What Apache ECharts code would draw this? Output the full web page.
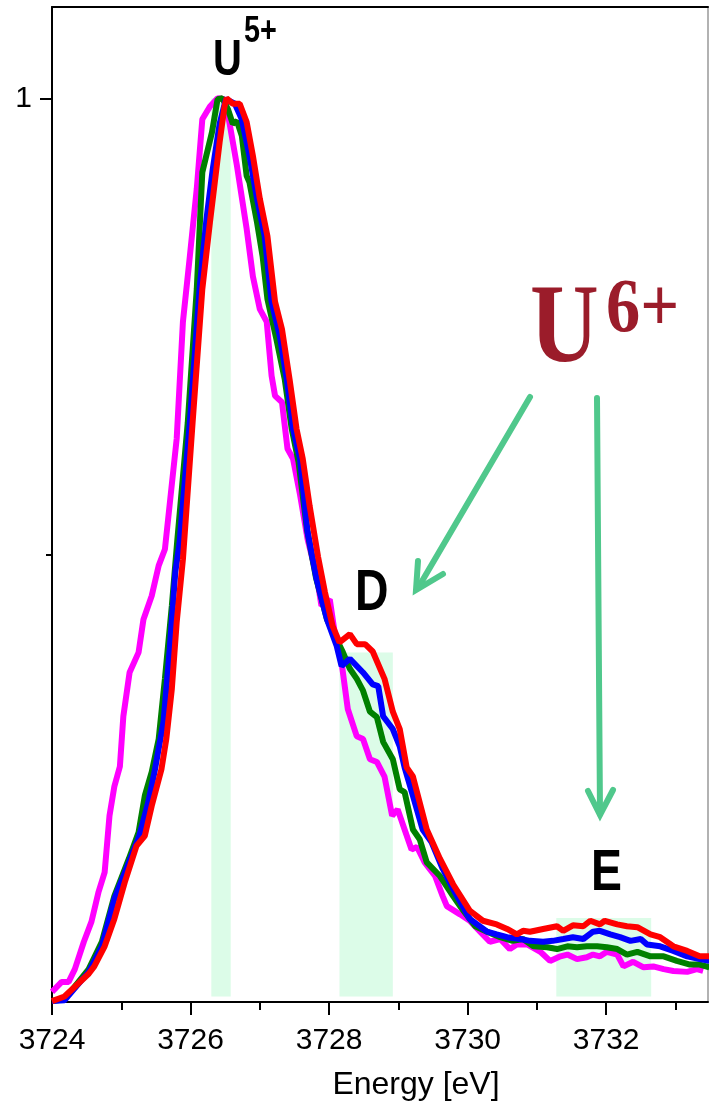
<!DOCTYPE html>
<html>
<head>
<meta charset="utf-8">
<style>
  html, body { margin: 0; padding: 0; background: #fff; }
  #chart { width: 709px; height: 1107px; }
</style>
<script src="https://cdn.jsdelivr.net/npm/echarts@6/dist/echarts.min.js"></script>
</head>
<body>
<div id="chart"></div>
<script>
// HERFD spectra, normalised intensity vs. incident energy [eV]
const magenta = [
  [3724.00,0.021],[3724.14,0.032],[3724.24,0.032],[3724.33,0.046],[3724.46,0.076],[3724.57,0.098],
  [3724.67,0.130],[3724.76,0.152],[3724.83,0.214],[3724.90,0.246],[3724.98,0.268],[3725.03,0.323],
  [3725.12,0.371],[3725.25,0.393],[3725.32,0.429],[3725.44,0.455],[3725.54,0.488],[3725.63,0.506],
  [3725.80,0.627],[3725.89,0.755],[3725.99,0.827],[3726.09,0.901],[3726.17,0.977],[3726.28,0.991],
  [3726.39,1.000],[3726.49,0.999],[3726.56,0.974],[3726.67,0.926],[3726.81,0.857],[3726.90,0.805],
  [3727.00,0.769],[3727.10,0.755],[3727.17,0.696],[3727.22,0.674],[3727.32,0.667],[3727.40,0.616],
  [3727.48,0.605],[3727.58,0.566],[3727.69,0.517],[3727.82,0.477],[3727.89,0.444],[3728.01,0.451],
  [3728.08,0.415],[3728.18,0.382],[3728.27,0.331],[3728.40,0.301],[3728.49,0.298],[3728.59,0.276],
  [3728.69,0.273],[3728.80,0.257],[3728.91,0.214],[3728.99,0.221],[3729.09,0.199],[3729.19,0.177],
  [3729.27,0.180],[3729.38,0.163],[3729.53,0.148],[3729.64,0.126],[3729.70,0.115],[3729.89,0.106],
  [3730.03,0.099],[3730.18,0.087],[3730.32,0.076],[3730.47,0.079],[3730.61,0.068],[3730.71,0.073],
  [3730.86,0.073],[3731.05,0.065],[3731.19,0.055],[3731.34,0.060],[3731.44,0.062],[3731.58,0.057],
  [3731.72,0.059],[3731.81,0.062],[3731.91,0.060],[3732.01,0.065],[3732.16,0.062],[3732.25,0.049],
  [3732.39,0.054],[3732.54,0.048],[3732.68,0.049],[3732.83,0.046],[3732.97,0.044],[3733.17,0.043],
  [3733.31,0.046],[3733.40,0.044]
];
const green = [
  [3724.00,0.011],[3724.18,0.013],[3724.53,0.046],[3724.72,0.076],[3724.90,0.126],[3725.11,0.167],
  [3725.25,0.196],[3725.34,0.236],[3725.44,0.262],[3725.54,0.298],[3725.63,0.364],[3725.73,0.444],
  [3725.81,0.517],[3725.96,0.645],[3726.09,0.791],[3726.17,0.919],[3726.31,0.963],[3726.39,0.999],
  [3726.46,1.000],[3726.54,0.988],[3726.61,0.972],[3726.67,0.975],[3726.74,0.959],[3726.81,0.915],
  [3726.85,0.908],[3726.96,0.864],[3727.04,0.827],[3727.11,0.780],[3727.24,0.736],[3727.36,0.692],
  [3727.46,0.638],[3727.56,0.601],[3727.68,0.528],[3727.81,0.475],[3727.97,0.429],[3728.04,0.418],
  [3728.20,0.393],[3728.30,0.375],[3728.40,0.364],[3728.49,0.351],[3728.59,0.328],[3728.69,0.322],
  [3728.78,0.295],[3728.92,0.276],[3729.02,0.243],[3729.09,0.240],[3729.21,0.199],[3729.31,0.188],
  [3729.41,0.163],[3729.60,0.148],[3729.79,0.126],[3729.89,0.115],[3730.11,0.093],[3730.28,0.087],
  [3730.47,0.081],[3730.65,0.077],[3730.80,0.079],[3730.95,0.071],[3731.15,0.070],[3731.29,0.068],
  [3731.44,0.071],[3731.58,0.070],[3731.72,0.071],[3731.87,0.071],[3732.01,0.070],[3732.16,0.068],
  [3732.30,0.062],[3732.45,0.065],[3732.64,0.060],[3732.83,0.060],[3733.02,0.055],[3733.21,0.051],
  [3733.35,0.051],[3733.49,0.048]
];
const blue = [
  [3724.00,0.011],[3724.18,0.012],[3724.53,0.043],[3724.72,0.071],[3724.90,0.123],[3725.11,0.163],
  [3725.26,0.192],[3725.39,0.229],[3725.48,0.262],[3725.61,0.317],[3725.70,0.397],[3725.78,0.481],
  [3725.84,0.512],[3725.99,0.645],[3726.13,0.791],[3726.23,0.868],[3726.32,0.922],[3726.42,0.972],
  [3726.51,0.999],[3726.64,0.994],[3726.74,0.977],[3726.85,0.937],[3726.96,0.890],[3727.07,0.849],
  [3727.17,0.777],[3727.29,0.739],[3727.39,0.692],[3727.48,0.638],[3727.58,0.605],[3727.69,0.525],
  [3727.82,0.473],[3727.97,0.429],[3728.11,0.400],[3728.18,0.378],[3728.30,0.386],[3728.49,0.371],
  [3728.63,0.358],[3728.71,0.356],[3728.78,0.323],[3728.92,0.309],[3729.02,0.290],[3729.09,0.267],
  [3729.21,0.236],[3729.35,0.199],[3729.48,0.185],[3729.64,0.156],[3729.79,0.134],[3730.03,0.101],
  [3730.28,0.087],[3730.42,0.084],[3730.57,0.081],[3730.76,0.079],[3730.90,0.077],[3731.09,0.076],
  [3731.23,0.077],[3731.38,0.079],[3731.52,0.081],[3731.67,0.079],[3731.81,0.087],[3731.91,0.088],
  [3732.06,0.084],[3732.20,0.081],[3732.35,0.077],[3732.50,0.079],[3732.59,0.073],[3732.78,0.071],
  [3732.97,0.066],[3733.17,0.060],[3733.35,0.057],[3733.49,0.055]
];
const red = [
  [3724.00,0.011],[3724.18,0.016],[3724.53,0.041],[3724.61,0.049],[3724.76,0.071],[3724.90,0.101],
  [3725.05,0.141],[3725.22,0.181],[3725.34,0.192],[3725.44,0.225],[3725.58,0.265],[3725.65,0.298],
  [3725.73,0.353],[3725.80,0.426],[3725.89,0.495],[3726.03,0.645],[3726.17,0.791],[3726.28,0.864],
  [3726.35,0.908],[3726.42,0.952],[3726.49,0.991],[3726.52,1.000],[3726.61,0.994],[3726.71,0.994],
  [3726.81,0.974],[3726.90,0.937],[3727.00,0.890],[3727.11,0.849],[3727.22,0.777],[3727.32,0.747],
  [3727.43,0.692],[3727.53,0.638],[3727.62,0.605],[3727.72,0.553],[3727.84,0.498],[3727.94,0.459],
  [3728.05,0.422],[3728.15,0.404],[3728.30,0.413],[3728.40,0.402],[3728.52,0.402],[3728.63,0.394],
  [3728.80,0.364],[3728.92,0.328],[3729.02,0.309],[3729.12,0.267],[3729.21,0.257],[3729.41,0.199],
  [3729.60,0.167],[3729.79,0.139],[3730.03,0.110],[3730.22,0.099],[3730.42,0.095],[3730.57,0.090],
  [3730.71,0.084],[3730.80,0.088],[3730.90,0.087],[3731.09,0.090],[3731.29,0.093],[3731.38,0.088],
  [3731.52,0.094],[3731.67,0.093],[3731.77,0.099],[3731.91,0.095],[3731.98,0.099],[3732.16,0.095],
  [3732.30,0.093],[3732.45,0.092],[3732.64,0.084],[3732.78,0.081],[3732.97,0.071],[3733.17,0.066],
  [3733.35,0.060],[3733.49,0.060]
];

// shaded features: [start energy, end energy, top intensity]
const bands = [
  [3726.30, 3726.58, 1.000],
  [3728.15, 3728.92, 0.393],
  [3731.28, 3732.65, 0.102]
];
const bandBase = 0.016;

const xMajorTicks = [3724, 3726, 3728, 3730, 3732];
const xMinorTicks = [3725, 3727, 3729, 3731, 3733];
const yMajorTicks = [1];
const yMinorTicks = [0.5];

const X_MIN = 3724, X_MAX = 3733.47, Y_MIN = 0.01, Y_MAX = 1.1;
const SANS = "'Liberation Sans', Arial, sans-serif";
const ARROW = '#50c88c';

const chart = echarts.init(document.getElementById('chart'), null, { renderer: 'canvas' });

function lineSeries(name, data, color) {
  return {
    name, type: 'line', data, xAxisIndex: 0, yAxisIndex: 0,
    showSymbol: false, symbol: 'none', animation: false,
    lineStyle: { color, width: 6 }, z: 3
  };
}

chart.setOption({
  animation: false,
  backgroundColor: '#fff',
  grid: { left: 52, right: 1, top: 7, bottom: 105, containLabel: false },
  xAxis: [
    {
      type: 'value', min: X_MIN, max: X_MAX, position: 'bottom',
      axisLine: { show: true, lineStyle: { color: '#000', width: 2 } },
      axisTick: { show: true, inside: false, length: 13, customValues: xMajorTicks, lineStyle: { color: '#000', width: 2 } },
      axisLabel: { customValues: xMajorTicks, fontSize: 30, fontFamily: SANS, color: '#000', margin: 24,
                   formatter: v => String(v) },
      splitLine: { show: false },
      name: 'Energy [eV]', nameLocation: 'middle', nameGap: 67,
      nameTextStyle: { fontSize: 32, fontFamily: SANS, color: '#000', padding: [0, 0, 0, 72] }
    },
    {
      type: 'value', min: X_MIN, max: X_MAX, position: 'bottom', offset: 0,
      axisLine: { show: false },
      axisTick: { show: true, inside: false, length: 8, customValues: xMinorTicks, lineStyle: { color: '#000', width: 2 } },
      axisLabel: { show: false }, splitLine: { show: false }
    },
    {
      type: 'value', min: X_MIN, max: X_MAX, position: 'top', offset: 0,
      axisLine: { show: true, lineStyle: { color: '#000', width: 2 } },
      axisTick: { show: false }, axisLabel: { show: false }, splitLine: { show: false }
    }
  ],
  yAxis: [
    {
      type: 'value', min: Y_MIN, max: Y_MAX, position: 'left',
      axisLine: { show: true, lineStyle: { color: '#000', width: 2 } },
      axisTick: { show: true, inside: false, length: 12, customValues: yMajorTicks, lineStyle: { color: '#000', width: 2 } },
      axisLabel: { customValues: yMajorTicks, fontSize: 30, fontFamily: SANS, color: '#000', margin: 20,
                   formatter: v => String(Math.round(v)) },
      splitLine: { show: false }
    },
    {
      type: 'value', min: Y_MIN, max: Y_MAX, position: 'left', offset: 0,
      axisLine: { show: false },
      axisTick: { show: true, inside: false, length: 6, customValues: yMinorTicks, lineStyle: { color: '#000', width: 2 } },
      axisLabel: { show: false }, splitLine: { show: false }
    },
    {
      type: 'value', min: Y_MIN, max: Y_MAX, position: 'right', offset: 0,
      axisLine: { show: true, lineStyle: { color: '#999', width: 1.5 } },
      axisTick: { show: false }, axisLabel: { show: false }, splitLine: { show: false }
    }
  ],
  series: [
    {
      name: 'bands', type: 'custom', data: bands, xAxisIndex: 0, yAxisIndex: 0, z: 1,
      renderItem: (params, api) => {
        const p0 = api.coord([api.value(0), bandBase]);
        const p1 = api.coord([api.value(1), api.value(2)]);
        return {
          type: 'rect',
          shape: { x: p0[0], y: p1[1], width: p1[0] - p0[0], height: p0[1] - p1[1] },
          style: { fill: '#dcfce8' }
        };
      }
    },
    lineSeries('magenta', magenta, '#ff00ff'),
    lineSeries('green', green, '#008000'),
    lineSeries('blue', blue, '#0000ff'),
    lineSeries('red', red, '#ff0000')
  ],
  graphic: [
    // U5+ label at the white line
    { type: 'text', x: 213, y: 61, scaleX: 0.8, z: 10,
      style: { text: 'U', font: "bold 50px 'Liberation Sans', Arial, sans-serif", fill: '#000', verticalAlign: 'middle' } },
    { type: 'text', x: 244, y: 32, scaleX: 0.8, z: 10,
      style: { text: '5+', font: "bold 36px 'Liberation Sans', Arial, sans-serif", fill: '#000', verticalAlign: 'middle' } },
    // feature labels
    { type: 'text', x: 355, y: 594, scaleX: 0.8, z: 10,
      style: { text: 'D', font: "bold 58px 'Liberation Sans', Arial, sans-serif", fill: '#000', verticalAlign: 'middle' } },
    { type: 'text', x: 591, y: 874, scaleX: 0.8, z: 10,
      style: { text: 'E', font: "bold 58px 'Liberation Sans', Arial, sans-serif", fill: '#000', verticalAlign: 'middle' } },
    // U6+ label
    { type: 'text', x: 530, y: 332, scaleX: 0.85, z: 10,
      style: { text: 'U', font: "bold 112px 'Liberation Serif', 'Times New Roman', serif", fill: '#9b1c2a', verticalAlign: 'middle' } },
    { type: 'text', x: 606, y: 311, scaleX: 0.9, z: 10,
      style: { text: '6+', font: "bold 76px 'Liberation Serif', 'Times New Roman', serif", fill: '#9b1c2a', verticalAlign: 'middle' } },
    // arrows pointing to D and E
    { type: 'line', z: 10, shape: { x1: 530, y1: 397, x2: 418, y2: 588 },
      style: { stroke: ARROW, lineWidth: 6, lineCap: 'round' } },
    { type: 'polyline', z: 10, shape: { points: [[418, 561], [416, 590], [443, 574]] },
      style: { stroke: ARROW, lineWidth: 6, lineCap: 'round', lineJoin: 'miter', fill: null } },
    { type: 'line', z: 10, shape: { x1: 597, y1: 398, x2: 600, y2: 814 },
      style: { stroke: ARROW, lineWidth: 6, lineCap: 'round' } },
    { type: 'polyline', z: 10, shape: { points: [[588, 791], [600, 815], [613, 790]] },
      style: { stroke: ARROW, lineWidth: 6, lineCap: 'round', lineJoin: 'miter', fill: null } }
  ]
});
</script>
</body>
</html>
